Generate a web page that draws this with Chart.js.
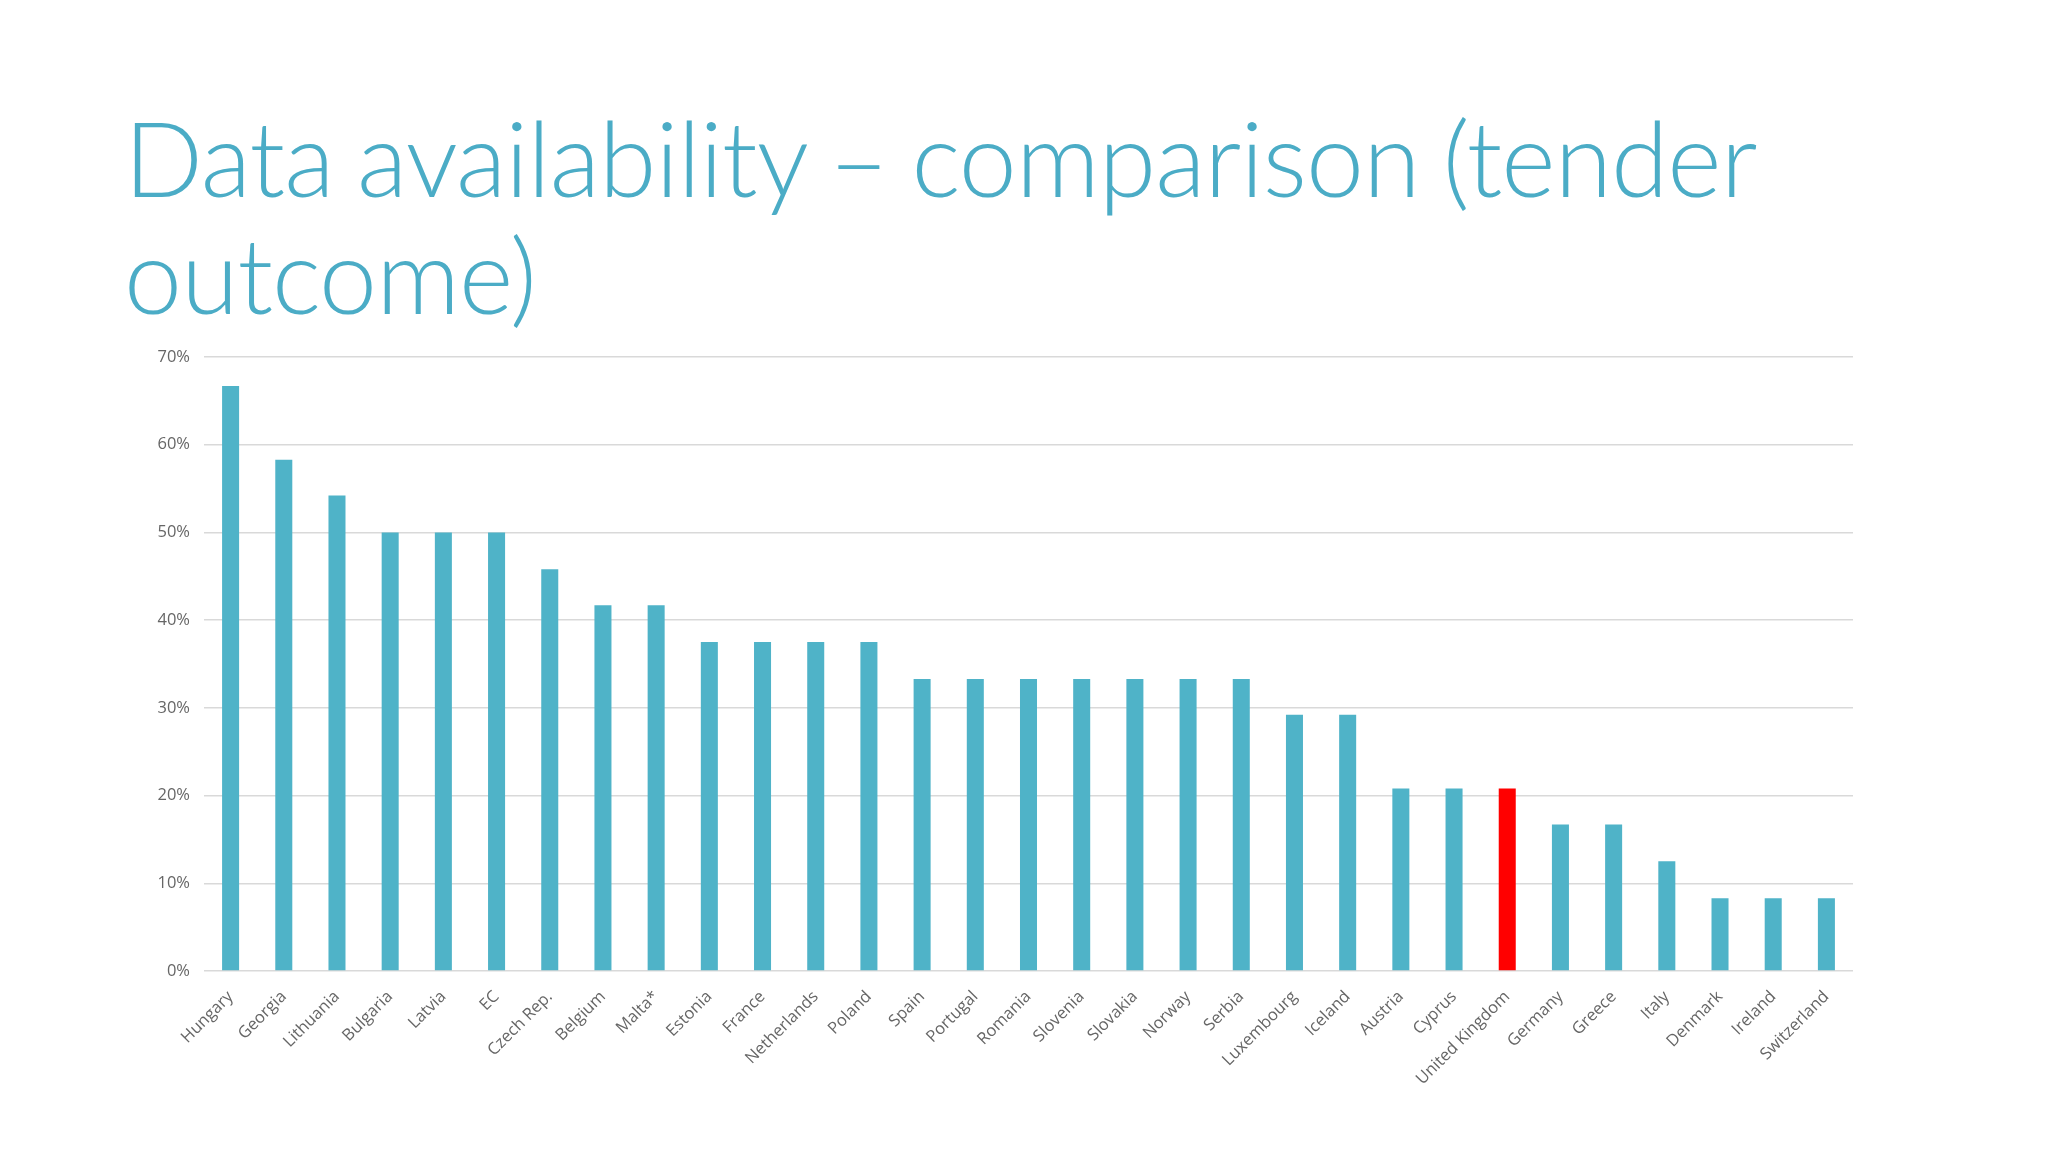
<!DOCTYPE html>
<html>
<head>
<meta charset="utf-8">
<script src="https://cdn.jsdelivr.net/npm/chart.js@4.4.0/dist/chart.umd.min.js"></script>
<style>
  html, body { margin: 0; padding: 0; background: #ffffff; }
  body { width: 2048px; height: 1152px; position: relative; overflow: hidden; }
  #title {
    position: absolute; left: 124px; top: 98px; width: 1800px;
    font-family: Lato, "Open Sans", sans-serif; font-weight: 300;
    font-size: 104px; line-height: 117px; color: #4BACC6;
    letter-spacing: -0.9px; word-spacing: -4px;
  }
  #wrap { position: absolute; left: 0px; top: 330px; width: 1880px; height: 800px; }
</style>
</head>
<body>
<div id="title">Data availability – comparison (tender<br>outcome)</div>
<div id="wrap"><canvas id="c"></canvas></div>
<script>
const categories = ["Hungary","Georgia","Lithuania","Bulgaria","Latvia","EC","Czech Rep.","Belgium","Malta*","Estonia","France","Netherlands","Poland","Spain","Portugal","Romania","Slovenia","Slovakia","Norway","Serbia","Luxembourg","Iceland","Austria","Cyprus","United Kingdom","Germany","Greece","Italy","Denmark","Ireland","Switzerland"];
const values = [66.7,58.3,54.2,50.0,50.0,50.0,45.8,41.7,41.7,37.5,37.5,37.5,37.5,33.3,33.3,33.3,33.3,33.3,33.3,33.3,29.2,29.2,20.8,20.8,20.8,16.7,16.7,12.5,8.3,8.3,8.3];
const highlight = "United Kingdom";
const yTicks = [0,10,20,30,40,50,60,70];

const barColors = categories.map(c => c === highlight ? "#FF0000" : "#4FB3C8");

new Chart(document.getElementById("c"), {
  type: "bar",
  data: {
    labels: categories,
    datasets: [{ data: values, backgroundColor: barColors, barPercentage: 0.32, categoryPercentage: 1.0 }]
  },
  options: {
    responsive: true,
    maintainAspectRatio: false,
    animation: false,
    layout: { padding: { top: 27, right: 27, bottom: 0, left: 0 } },
    plugins: { legend: { display: false }, tooltip: { enabled: false } },
    scales: {
      x: {
        grid: { display: false },
        border: { display: false },
        ticks: {
          autoSkip: false, minRotation: 45, maxRotation: 45,
          color: "#666666", font: { family: "'Open Sans', sans-serif", size: 16.5 }, padding: 8
        },
        afterFit: (s) => { s.height = 159; }
      },
      y: {
        min: 0, max: 70,
        afterBuildTicks: (s) => { s.ticks = yTicks.map(v => ({ value: v })); },
        grid: { color: "#D9D9D9", lineWidth: 1.5, drawTicks: false },
        border: { display: false },
        ticks: {
          color: "#666666", font: { family: "'Open Sans', sans-serif", size: 16.5 }, padding: 14,
          callback: (v) => v + "%"
        },
        afterFit: (s) => { s.width = 204; }
      }
    }
  }
});
</script>
</body>
</html>
